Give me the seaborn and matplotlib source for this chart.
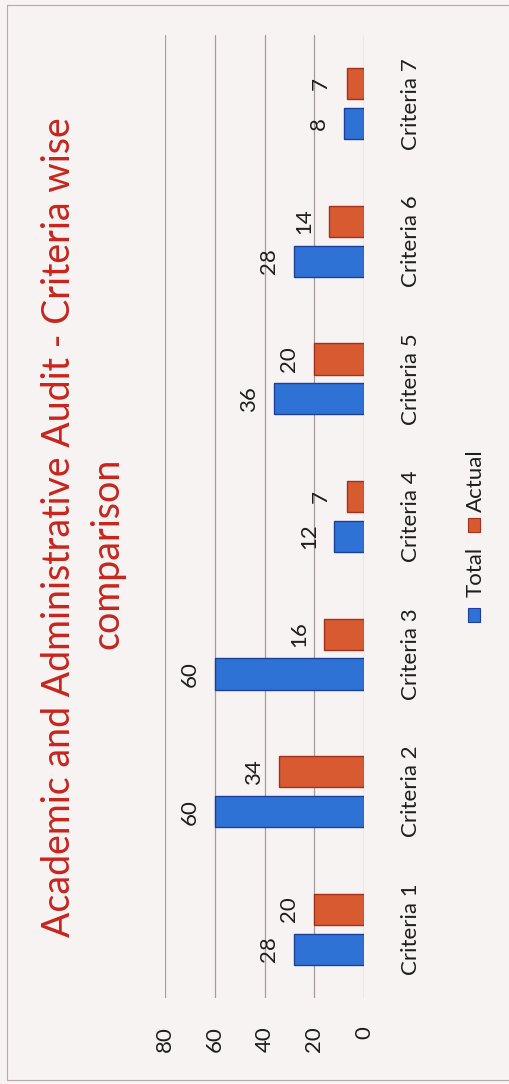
import pandas as pd
import matplotlib.pyplot as plt
import seaborn as sns
from matplotlib.patches import Rectangle
from matplotlib.lines import Line2D

# Datos del gráfico
criterios = ["Criteria 1", "Criteria 2", "Criteria 3", "Criteria 4",
             "Criteria 5", "Criteria 6", "Criteria 7"]
total = [28, 60, 60, 12, 36, 28, 8]
actual = [20, 34, 16, 7, 20, 14, 7]
series = ["Total", "Actual"]
ticks_valor = [0, 20, 40, 60, 80]
titulo1 = "Academic and Administrative Audit - Criteria wise"
titulo2 = "comparison"

df = pd.DataFrame({
    "Criteria": criterios * 2,
    "Serie": ["Total"] * len(total) + ["Actual"] * len(actual),
    "Valor": total + actual,
})

sns.set_theme(style="white")
plt.rcParams["font.family"] = ["Lato", "DejaVu Sans"]

fondo = "#f7f3f2"
colores = {"Total": "#2f72d6", "Actual": "#d85a30"}
bordes = {"Total": "#1c3f9c", "Actual": "#a3311c"}
texto = "#1e1e1e"
W, H = 509, 1084

fig = plt.figure(figsize=(W / 100, H / 100), dpi=100, facecolor=fondo)
ax = fig.add_axes([165 / W, 1 - 998 / H, 199 / W, 963 / H])
ax.set_facecolor("none")

sns.barplot(data=df, y="Criteria", x="Valor", hue="Serie", order=criterios,
            hue_order=series, palette=colores, orient="h", width=0.58, gap=0.22,
            saturation=1, errorbar=None, legend=False, ax=ax)

# Bordes de las barras
for serie, cont in zip(series, ax.containers):
    for p in cont:
        p.set_edgecolor(bordes[serie])
        p.set_linewidth(1.0)

ax.set_ylim(-0.5, 6.5)
ax.set_xlim(80, 0)
ax.set_xlabel("")
ax.set_ylabel("")
for s in ax.spines.values():
    s.set_visible(False)

# Eje de valores (abajo, girado)
ax.set_xticks(ticks_valor, labels=[str(t) for t in ticks_valor], rotation=90,
              rotation_mode="anchor", ha="right", va="center")
ax.tick_params(axis="x", length=0, pad=20, labelsize=16, labelcolor=texto)
ax.grid(axis="x", color="#a99b9b", lw=0.9)
ax.grid(axis="y", visible=False)
ax.set_axisbelow(True)

# Eje de categorías (a la derecha, girado)
ax.yaxis.tick_right()
ax.set_yticks(range(len(criterios)), labels=criterios, rotation=90,
              rotation_mode="anchor", ha="center", va="baseline")
ax.tick_params(axis="y", length=0, pad=38, labelsize=16, labelcolor=texto)

# Etiquetas de valores
for cont in ax.containers:
    for p in cont:
        v = p.get_width()
        yc = p.get_y() + p.get_height() / 2
        ax.annotate(f"{v:g}", (v, yc), xytext=(-14, 0), textcoords="offset points",
                    rotation=90, rotation_mode="anchor", ha="center", va="baseline",
                    fontsize=16, color=texto)

# Título
fig.text(70 / W, 1 - 527 / H, titulo1, rotation=90, rotation_mode="anchor",
         ha="center", va="baseline", color="#c8241c", fontsize=27)
fig.text(118 / W, 1 - 553 / H, titulo2, rotation=90, rotation_mode="anchor",
         ha="center", va="baseline", color="#c8241c", fontsize=27)

# Leyenda manual (girada)
fig.add_artist(Rectangle((468 / W, 1 - 622 / H), 12 / W, 14 / H, transform=fig.transFigure,
                         fc=colores["Total"], ec=bordes["Total"], lw=0.8))
fig.add_artist(Rectangle((468 / W, 1 - 532 / H), 12 / W, 14 / H, transform=fig.transFigure,
                         fc=colores["Actual"], ec=bordes["Actual"], lw=0.8))
fig.text(482 / W, 1 - 572 / H, "Total", rotation=90, rotation_mode="anchor",
         ha="center", va="baseline", fontsize=16, color=texto)
fig.text(482 / W, 1 - 481 / H, "Actual", rotation=90, rotation_mode="anchor",
         ha="center", va="baseline", fontsize=16, color=texto)

# Borde de la hoja
borde = "#b9a9a9"
fig.add_artist(Line2D([7 / W, 7 / W], [1 - 5 / H, 1 - 1080 / H], color=borde, lw=0.8))
fig.add_artist(Line2D([7 / W, 1], [1 - 5 / H, 1 - 5 / H], color=borde, lw=0.8))
fig.add_artist(Line2D([7 / W, 1], [1 - 1080 / H, 1 - 1080 / H], color=borde, lw=0.8))

fig.savefig("out.png", dpi=100, facecolor=fondo)
